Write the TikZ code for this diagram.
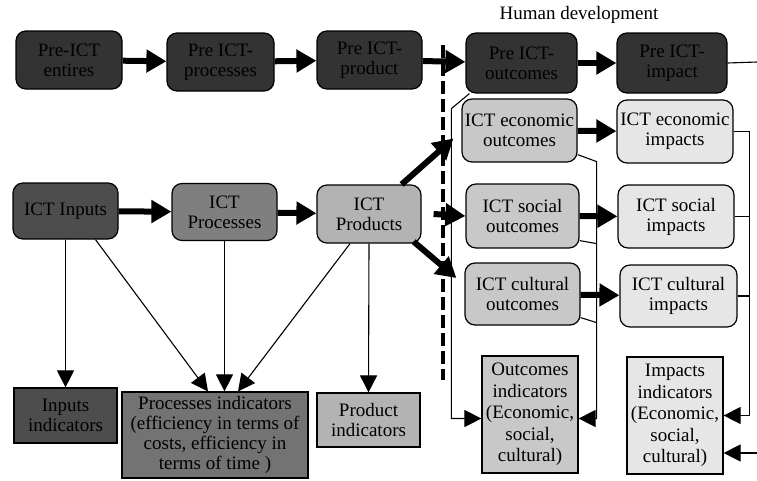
\documentclass[tikz,border=0pt]{standalone}
\usepackage{fontspec}
\setmainfont{Liberation Serif}
\usetikzlibrary{arrows.meta}

\definecolor{preGray}{HTML}{333333}
\definecolor{inGray}{HTML}{4D4D4D}
\definecolor{procGray}{HTML}{7F7F7F}
\definecolor{procIndGray}{HTML}{737373}
\definecolor{prodGray}{HTML}{B3B3B3}
\definecolor{outGray}{HTML}{C8C8C8}
\definecolor{impGray}{HTML}{E6E6E6}

\begin{document}
\begin{tikzpicture}[x=1pt,y=-1pt]
    \tikzstyle{every node}=[font=\fontsize{19}{20}\selectfont, align=center, inner sep=1pt]
    \tikzstyle{stage}=[draw, line width=1.2pt, rounded corners=10pt]
    \tikzstyle{indicator}=[draw, line width=1.2pt]
    \tikzstyle{bigarrow}=[line width=6pt, -{Triangle[length=20pt,width=22pt]}]
    \tikzstyle{thinarrow}=[line width=1.1pt, -{Triangle[length=17pt,width=17pt]}]
    \useasboundingbox (0,0) rectangle (757,480);

    % Row 1 (Pre-ICT)
    \node[stage, fill=preGray, minimum width=106pt, minimum height=58pt] (preEnt) at (69,60) {Pre-ICT\\entires};
    \node[stage, fill=preGray, minimum width=107pt, minimum height=58pt] (preProc) at (220.5,62) {Pre ICT-\\processes};
    \node[stage, fill=preGray, minimum width=105pt, minimum height=58pt] (preProd) at (369.5,60) {Pre ICT-\\product};
    \node[stage, fill=preGray, minimum width=111pt, minimum height=60pt] (preOut) at (521.5,63) {Pre ICT-\\outcomes};
    \node[stage, fill=preGray, minimum width=110pt, minimum height=60pt] (preImp) at (672,63) {Pre ICT-\\impact};
    \node (humDev) at (579,15) {Human development};
    \coordinate (topEdge) at (757,62);
    \draw [bigarrow] (preEnt) -- (preProc);
    \draw [bigarrow] (preProc) -- (preProd);
    \draw [bigarrow] (preProd) -- (preOut);
    \draw [bigarrow] (preOut) -- (preImp);
    \draw [line width=1.1pt] (preImp.east) -- (topEdge);

    % Row 2 (ICT inputs to products)
    \node[stage, fill=inGray, minimum width=105pt, minimum height=56pt] (ictIn) at (65.5,211) {ICT Inputs};
    \node[stage, fill=procGray, minimum width=105pt, minimum height=57pt] (ictProc) at (224.5,212) {ICT\\Processes};
    \node[stage, fill=prodGray, minimum width=104pt, minimum height=58pt] (ictProd) at (369,214) {ICT\\Products};
    \draw [bigarrow] (ictIn) -- (ictProc);
    \draw [bigarrow] (ictProc) -- (ictProd);

    % Outcomes and impacts
    \node[stage, fill=outGray, minimum width=115pt, minimum height=63pt] (ecoOut) at (519.5,130.5) {ICT economic\\outcomes};
    \node[stage, fill=impGray, minimum width=116pt, minimum height=63pt] (ecoImp) at (675,131.5) {ICT economic\\impacts};
    \node[stage, fill=outGray, minimum width=113pt, minimum height=64pt] (socOut) at (522.5,216) {ICT social\\outcomes};
    \node[stage, fill=impGray, minimum width=116pt, minimum height=63pt] (socImp) at (676,216.5) {ICT social\\impacts};
    \node[stage, fill=outGray, minimum width=115pt, minimum height=62pt] (culOut) at (522.5,294) {ICT cultural\\outcomes};
    \node[stage, fill=impGray, minimum width=117pt, minimum height=62pt] (culImp) at (678.5,296) {ICT cultural\\impacts};
    \draw [bigarrow] ([xshift=-20pt]ictProd.north east) -- ([xshift=-8pt,yshift=-8pt]ecoOut.west);
    \draw [bigarrow] ([xshift=12pt]ictProd.east) -- (socOut.west);
    \draw [bigarrow] ([xshift=-8pt,yshift=2pt]ictProd.south east) -- ([xshift=-8pt,yshift=16pt]culOut.west);
    \draw [bigarrow] (ecoOut) -- (ecoImp);
    \draw [bigarrow] (socOut) -- (socImp);
    \draw [bigarrow] (culOut) -- (culImp);

    % divider
    \coordinate (divTop) at (443,45);
    \coordinate (divBot) at (443,380);
    \draw [line width=3.5pt, dash pattern=on 13pt off 5pt] (divTop) -- (divBot);

    % Row 3 (indicators)
    \node[indicator, fill=inGray, minimum width=103pt, minimum height=55pt] (inInd) at (65.5,415.5) {Inputs\\indicators};
    \node[indicator, fill=procIndGray, minimum width=186pt, minimum height=86pt] (procInd) at (215,435) {Processes indicators\\(efficiency in terms of\\costs, efficiency in\\terms of time )};
    \node[indicator, fill=prodGray, minimum width=103pt, minimum height=54pt] (prodInd) at (368.5,420) {Product\\indicators};
    \node[indicator, fill=outGray, minimum width=96pt, minimum height=117pt, font=\fontsize{19}{21.5}\selectfont] (outInd) at (530,414.5) {Outcomes\\indicators\\(Economic,\\social,\\cultural)};
    \node[indicator, fill=impGray, minimum width=96pt, minimum height=117pt, font=\fontsize{19}{21.5}\selectfont] (impInd) at (675,415.5) {Impacts\\indicators\\(Economic,\\social,\\cultural)};
    \draw [thinarrow] (ictIn.south) -- (inInd.north);
    \draw [thinarrow] ([xshift=30pt]ictIn.south) -- ([xshift=-7pt]procInd.north);
    \draw [thinarrow] (ictProc.south) -- (ictProc.south |- procInd.north);
    \draw [thinarrow] ([xshift=-19pt]ictProd.south) -- ([xshift=23pt]procInd.north);
    \draw [thinarrow] (ictProd.south) -- (prodInd.north);

    % links to outcomes and impacts indicators
    \draw [thinarrow] ([xshift=4pt]preOut.south west) -- ++(-18,15) |- ([yshift=-4pt]outInd.west);
    \draw [thinarrow] ([yshift=8pt]ecoOut.south east) -- ++(19,7) |- ([yshift=-4pt]outInd.east);
    \draw [line width=1.1pt] ([yshift=8pt]socOut.south east) -- ++(17,3);
    \draw [line width=1.1pt] ([yshift=8pt]culOut.south east) -- ++(16,5);
    \draw [thinarrow] (ecoImp.east) -- ++(16,0) |- (impInd.east);
    \draw [line width=1.1pt] (socImp.east) -- ++(15,0);
    \draw [line width=1.1pt] (culImp.east) -- ++(12,0);
    \coordinate (botEdge) at (757,453);
    \draw [thinarrow] (botEdge) -- (impInd.east |- botEdge);

\end{tikzpicture}
\end{document}
